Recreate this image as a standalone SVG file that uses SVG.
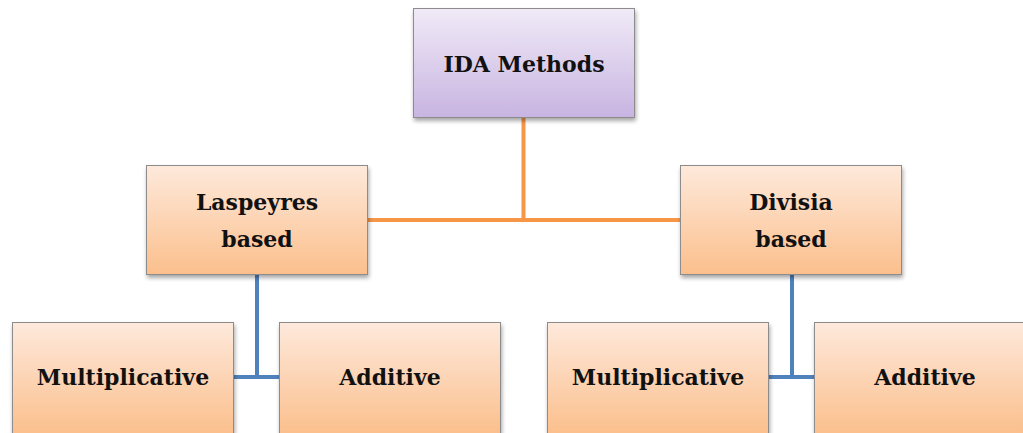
<svg xmlns="http://www.w3.org/2000/svg" width="1023" height="433" viewBox="0 0 1023 433">
<defs>
<linearGradient id="gPurple" x1="0" y1="0" x2="0" y2="1">
<stop offset="0" stop-color="#f0eaf7"/>
<stop offset="1" stop-color="#c8b4e1"/>
</linearGradient>
<linearGradient id="gOrange" x1="0" y1="0" x2="0" y2="1">
<stop offset="0" stop-color="#fee9dc"/>
<stop offset="1" stop-color="#fbbf8c"/>
</linearGradient>
<filter id="sh" x="-10%" y="-10%" width="125%" height="130%">
<feGaussianBlur in="SourceAlpha" stdDeviation="2"/>
<feOffset dx="1" dy="3" result="b"/>
<feComponentTransfer><feFuncA type="linear" slope="0.35"/></feComponentTransfer>
<feMerge><feMergeNode/><feMergeNode in="SourceGraphic"/></feMerge>
</filter>
</defs>
<style>
.box{stroke:#8c8c8c;stroke-width:1;filter:url(#sh)}
.p{fill:url(#gPurple)}
.o{fill:url(#gOrange)}
.t{font-family:"DejaVu Serif","Liberation Serif",serif;font-weight:bold;font-size:22px;fill:#111;text-anchor:middle}
.co{stroke:#f79646;stroke-width:4;fill:none}
.cb{stroke:#4f81bd;stroke-width:4;fill:none}
</style>
<g id="connectors">
<path class="co" d="M523.5,118 V220 M368,220 H680"/>
<path class="cb" d="M257,275 V377 M233,377 H279"/>
<path class="cb" d="M792,275 V377 M769,377 H814"/>
</g>
<g id="ida">
<rect class="box p" x="413.5" y="8.5" width="221" height="109"/>
<text class="t" x="524" y="72">IDA Methods</text>
</g>
<g id="laspeyres">
<rect class="box o" x="146.5" y="165.5" width="221" height="109"/>
<text class="t" x="257" y="210">Laspeyres</text>
<text class="t" x="257" y="247">based</text>
</g>
<g id="divisia">
<rect class="box o" x="680.5" y="165.5" width="221" height="109"/>
<text class="t" x="791" y="210">Divisia</text>
<text class="t" x="791" y="247">based</text>
</g>
<g id="mult-left">
<rect class="box o" x="12.5" y="322.5" width="221" height="112"/>
<text class="t" x="123" y="385">Multiplicative</text>
</g>
<g id="add-left">
<rect class="box o" x="279.5" y="322.5" width="221" height="112"/>
<text class="t" x="390" y="385">Additive</text>
</g>
<g id="mult-right">
<rect class="box o" x="547.5" y="322.5" width="221" height="112"/>
<text class="t" x="658" y="385">Multiplicative</text>
</g>
<g id="add-right">
<rect class="box o" x="814.5" y="322.5" width="221" height="112"/>
<text class="t" x="925" y="385">Additive</text>
</g>
</svg>
